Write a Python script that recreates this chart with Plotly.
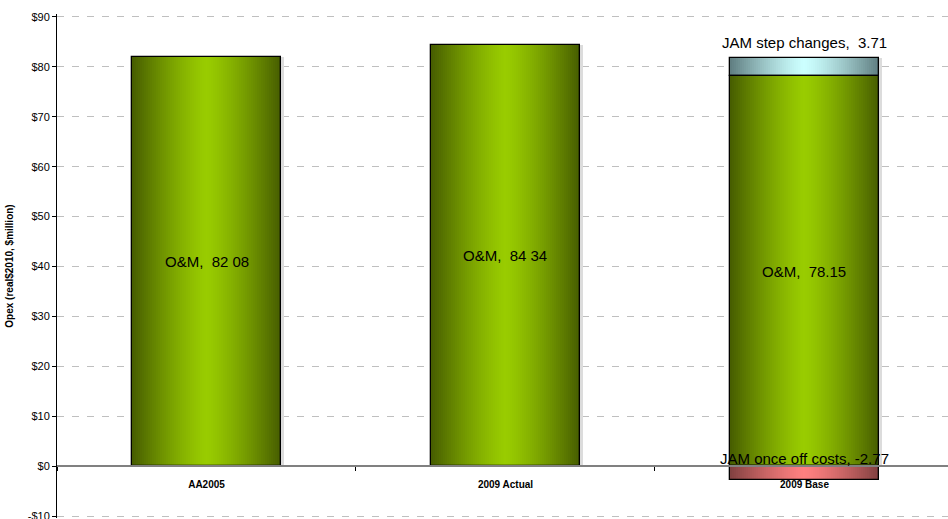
import plotly.graph_objects as go

# Opex by period (real $2010, $million)
categories = ["AA2005", "2009 Actual", "2009 Base"]
om_values = [82.08, 84.34, 78.15]
om_labels = ["O&M,  82 08", "O&M,  84 34", "O&M,  78.15"]

step_category = "2009 Base"
step_value = 3.71
step_label = "JAM step changes,  3.71"

onceoff_category = "2009 Base"
onceoff_value = -2.77
onceoff_label = "JAM once off costs, -2.77"

y_tick_vals = [-10, 0, 10, 20, 30, 40, 50, 60, 70, 80, 90]
y_tick_text = ["-$10", "$0", "$10", "$20", "$30", "$40", "$50", "$60", "$70", "$80", "$90"]

Y_RANGE = [-10.4, 90.6]
BAR_W = 0.5
N_STRIPES = 75


def keep_spaces(s):
    # SVG collapses runs of spaces; keep the double gaps visible
    return s.replace("  ", " \u00a0")


def mix(c1, c2, t):
    return "rgb(%d,%d,%d)" % tuple(round(a + (b - a) * t) for a, b in zip(c1, c2))


def gradient_traces(x, y, base, edge, center):
    """Bar drawn as thin vertical stripes shading from edge colour to centre colour."""
    traces = []
    sw = BAR_W / N_STRIPES
    for i in range(N_STRIPES):
        pos = (i + 0.5) / N_STRIPES
        d = abs(2 * pos - 1)
        t = 1 - d ** 1.3
        traces.append(go.Bar(
            x=x, y=y, base=base,
            width=[sw * 1.1] * len(x),
            offset=-BAR_W / 2 + i * sw,
            marker=dict(color=mix(edge, center, t), line=dict(width=0)),
            hoverinfo="skip", showlegend=False,
        ))
    return traces


def outline_trace(x, y, base):
    return go.Bar(
        x=x, y=y, base=base, width=[BAR_W] * len(x),
        marker=dict(color="rgba(0,0,0,0)", line=dict(color="#000000", width=1.3)),
        hoverinfo="skip", showlegend=False,
    )


def shadow_trace(x, y, base):
    return go.Bar(
        x=x, y=y, base=base, width=[BAR_W] * len(x), offset=-BAR_W / 2 + 0.008,
        marker=dict(color="#dcdcdc", line=dict(width=0)),
        hoverinfo="skip", showlegend=False,
    )


GREEN_EDGE, GREEN_MID = (70, 92, 0), (153, 204, 0)
CYAN_EDGE, CYAN_MID = (95, 125, 128), (204, 255, 255)
RED_EDGE, RED_MID = (128, 64, 64), (255, 128, 128)

fig = go.Figure()

om_base = [0] * len(categories)
step_base = [om_values[categories.index(step_category)]]

fig.add_trace(shadow_trace(categories, om_values, om_base))
fig.add_trace(shadow_trace([step_category], [step_value], step_base))
for tr in gradient_traces(categories, om_values, om_base, GREEN_EDGE, GREEN_MID):
    fig.add_trace(tr)
for tr in gradient_traces([step_category], [step_value], step_base, CYAN_EDGE, CYAN_MID):
    fig.add_trace(tr)
for tr in gradient_traces([onceoff_category], [onceoff_value], [0], RED_EDGE, RED_MID):
    fig.add_trace(tr)
fig.add_trace(outline_trace(categories, om_values, om_base))
fig.add_trace(outline_trace([step_category], [step_value], step_base))
fig.add_trace(outline_trace([onceoff_category], [onceoff_value], [0]))

label_font = dict(family="Arial, Liberation Sans, sans-serif", size=15, color="#000000")
annotations = []
for c, v, lab in zip(categories, om_values, om_labels):
    annotations.append(dict(x=c, y=v / 2, text=keep_spaces(lab), showarrow=False,
                            xref="x", yref="y", font=label_font))
annotations.append(dict(x=step_category, y=step_base[0] + step_value,
                        text=keep_spaces(step_label), showarrow=False, xref="x", yref="y",
                        yanchor="bottom", yshift=5, font=label_font))
annotations.append(dict(x=onceoff_category, y=0, text=keep_spaces(onceoff_label),
                        showarrow=False, xref="x", yref="y", yanchor="bottom", yshift=-3,
                        font=label_font))

span = Y_RANGE[1] - Y_RANGE[0]

fig.update_layout(
    width=948, height=519,
    margin=dict(l=57, r=0, t=14, b=1),
    paper_bgcolor="#ffffff", plot_bgcolor="#ffffff",
    barmode="overlay", bargap=0,
    showlegend=False,
    font=dict(family="Arial, Liberation Sans, sans-serif", color="#000000"),
    annotations=annotations,
    xaxis=dict(
        type="category", range=[-0.5, 2.48], automargin=False,
        anchor="free", position=(0 - Y_RANGE[0]) / span,
        showline=True, linecolor="#808080", linewidth=2,
        showgrid=False, zeroline=False,
        ticks="outside", ticklen=4, tickcolor="#000000", tickson="boundaries",
        tickfont=dict(family="Arial, Liberation Sans, sans-serif", size=10, color="#000000",
                      weight="bold"),
        ticklabelstandoff=9,
    ),
    yaxis=dict(
        range=Y_RANGE, automargin=False,
        tickvals=y_tick_vals, ticktext=y_tick_text,
        showline=True, linecolor="#000000", linewidth=1,
        ticks="outside", ticklen=4, tickcolor="#000000",
        tickfont=dict(family="Arial, Liberation Sans, sans-serif", size=11, color="#000000"),
        ticklabeloverflow="allow",
        showgrid=True, gridcolor="#bfbfbf", gridwidth=1, griddash="7px,8px",
        zeroline=False,
        title=dict(text="Opex (real$2010, $million)", standoff=12,
                   font=dict(family="Arial, Liberation Sans, sans-serif", size=10,
                             color="#000000", weight="bold")),
    ),
)

fig.write_html("out.html")
